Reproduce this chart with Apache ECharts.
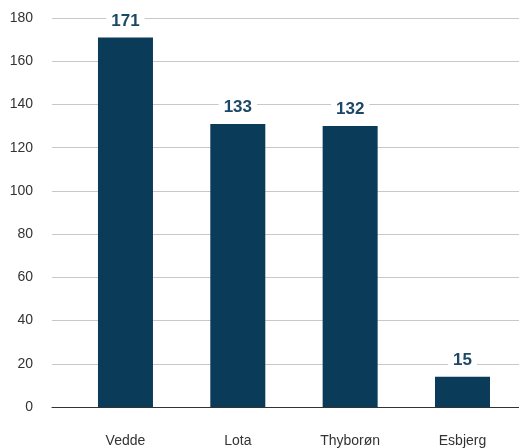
<!DOCTYPE html>
<html><head><meta charset="utf-8">
<script src="https://cdn.jsdelivr.net/npm/echarts@6/dist/echarts.min.js"></script>
<style>html,body{margin:0;padding:0;background:#fff}#c{width:519px;height:448px}</style>
</head><body><div id="c"></div>
<script>
var categories = ["Vedde", "Lota", "Thyborøn", "Esbjerg"];
var barValues = [171, 131, 130, 14];
var labelValues = [171, 133, 132, 15];
var yTicks = [0, 20, 40, 60, 80, 100, 120, 140, 160, 180];

var chart = echarts.init(document.getElementById('c'));
var font = '"Liberation Sans", Arial, Helvetica, sans-serif';
chart.setOption({
  animation: false,
  grid: { left: 52, right: 0, top: 18, bottom: 41 },
  xAxis: {
    type: 'value', min: -0.654, max: 3.503,
    splitLine: { show: false },
    axisLine: { show: true, lineStyle: { color: '#333', width: 1 } },
    axisTick: { show: false },
    axisLabel: {
      customValues: categories.map(function (c, i) { return i; }),
      formatter: function (v) { return categories[Math.round(v)] || ''; },
      color: '#333', fontSize: 14, fontFamily: font, margin: 27
    }
  },
  yAxis: {
    type: 'value', min: yTicks[0], max: yTicks[yTicks.length - 1], interval: 20,
    axisLine: { show: false }, axisTick: { show: false },
    splitLine: { lineStyle: { color: '#c8c8c8', width: 1 } },
    axisLabel: { color: '#333', fontSize: 14, fontFamily: font, margin: 19 }
  },
  series: [{
    type: 'bar', barWidth: 55,
    data: barValues.map(function (v, i) { return [i, v]; }),
    itemStyle: { color: '#0a3b58' },
    label: {
      show: true, position: 'top', distance: 8,
      formatter: function (p) { return String(labelValues[p.dataIndex]); },
      color: '#1a4866', fontSize: 17, fontWeight: 'bold', fontFamily: font,
      backgroundColor: '#fff', padding: [1, 5, 0, 5]
    }
  }]
});
</script></body></html>
